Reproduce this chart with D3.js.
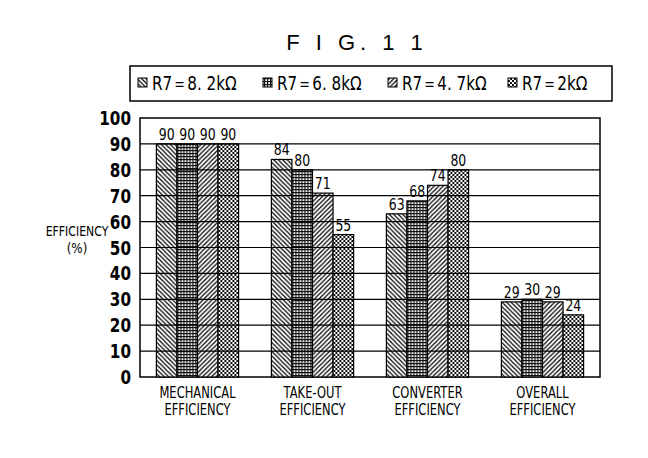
<!DOCTYPE html>
<html lang="en">
<head>
<meta charset="UTF-8">
<title>FIG. 11</title>
<script src="https://d3js.org/d3.v7.min.js"></script>
<style>
    body { margin: 0; background: #fff; }
    svg { display: block; }
    text { font-family: "DejaVu Sans", "Liberation Sans", sans-serif; fill: #000; }
</style>
</head>
<body>
<svg id="canvas" width="648" height="458"></svg>
<script>
    // chart data
    const categories = ['MECHANICAL\nEFFICIENCY', 'TAKE-OUT\nEFFICIENCY', 'CONVERTER\nEFFICIENCY', 'OVERALL\nEFFICIENCY'];
    const seriesNames = ['R7＝8. 2kΩ', 'R7＝6. 8kΩ', 'R7＝4. 7kΩ', 'R7＝2kΩ'];
    const r82 = [90, 84, 63, 29];
    const r68 = [90, 80, 68, 30];
    const r47 = [90, 71, 74, 29];
    const r20 = [90, 55, 80, 24];
    const yTicks = [0, 10, 20, 30, 40, 50, 60, 70, 80, 90, 100];

    const series = [r82, r68, r47, r20];
    const svg = d3.select('#canvas');

    const plotL = 140, plotR = 600, plotT = 118, plotB = 377;

    let x = d3.scaleBand().domain(categories).range([plotL, plotR])
        .paddingInner(0.285).paddingOuter(0.1425);
    let xs = d3.scaleBand().domain(d3.range(4)).range([0, x.bandwidth()]);
    let y = d3.scaleLinear().domain([0, 100]).range([plotB, plotT]);

    // squeezed text, the figure uses a tall narrow gothic face
    function narrow(parent, tx, ty, str, size, anchor, sx, weight){
        let g = parent.append('g').attr('transform', 'translate(' + tx + ',' + ty + ') scale(' + sx + ',1)');
        return g.append('text')
            .attr('font-size', size)
            .attr('font-weight', weight || 'normal')
            .attr('text-anchor', anchor)
            .text(str);
    }

    // hatch patterns
    let defs = svg.append('defs');
    function pat(id, size, draw){
        let p = defs.append('pattern').attr('id', id)
            .attr('patternUnits', 'userSpaceOnUse')
            .attr('width', size).attr('height', size);
        p.append('rect').attr('width', size).attr('height', size).attr('fill', 'white');
        draw(p);
    }
    pat('p0', 4.5, p => {
        p.append('path').attr('d', 'M-1,-1 L5.5,5.5 M-1,3.5 L1,5.5 M3.5,-1 L5.5,1')
            .attr('stroke', '#000').attr('stroke-width', 1.2);
    });
    pat('p1', 3, p => {
        p.append('rect').attr('width', 3).attr('height', 1.2).attr('fill', '#111');
        p.append('rect').attr('width', 1.2).attr('height', 3).attr('fill', '#111');
    });
    pat('p2', 4.5, p => {
        p.append('path').attr('d', 'M-1,5.5 L5.5,-1 M-1,1 L1,-1 M3.5,5.5 L5.5,3.5')
            .attr('stroke', '#000').attr('stroke-width', 1.2);
    });
    pat('p3', 4, p => {
        p.append('rect').attr('width', 2).attr('height', 2).attr('fill', '#111');
        p.append('rect').attr('x', 2).attr('y', 2).attr('width', 2).attr('height', 2).attr('fill', '#111');
    });

    // title
    svg.append('text')
        .attr('x', 357).attr('y', 50)
        .attr('text-anchor', 'middle')
        .style('font-family', 'Liberation Sans, sans-serif')
        .attr('font-size', 22)
        .attr('letter-spacing', 5)
        .text('F I G. 1 1');

    // legend
    let lg = svg.append('g');
    lg.append('rect').attr('x', 130).attr('y', 66).attr('width', 482).attr('height', 35)
        .attr('fill', 'white').attr('stroke', '#000').attr('stroke-width', 1.5);
    const legendX = [138, 263, 388, 508];
    seriesNames.forEach((s, i) => {
        lg.append('rect').attr('x', legendX[i]).attr('y', 78).attr('width', 9).attr('height', 9)
            .attr('fill', 'url(#p' + i + ')').attr('stroke', '#000').attr('stroke-width', 1);
        narrow(lg, legendX[i] + 14, 90, s, 19, 'start', 0.8);
    });

    // plot frame
    svg.append('rect').attr('x', plotL).attr('y', plotT)
        .attr('width', plotR - plotL).attr('height', plotB - plotT)
        .attr('fill', 'white').attr('stroke', '#000').attr('stroke-width', 1.5);

    // bars
    let groups = svg.append('g').selectAll('g')
        .data(categories).join('g')
        .attr('transform', d => 'translate(' + x(d) + ',0)');
    groups.each(function(cat, ci){
        let g = d3.select(this);
        series.forEach((vals, si) => {
            g.append('rect')
                .attr('x', xs(si)).attr('y', y(vals[ci]))
                .attr('width', xs.bandwidth()).attr('height', y(0) - y(vals[ci]))
                .attr('fill', 'url(#p' + si + ')')
                .attr('stroke', '#000').attr('stroke-width', 1.2);
        });
    });

    // grid lines drawn over the bars
    svg.append('g').selectAll('line')
        .data(yTicks.slice(1, -1)).join('line')
        .attr('x1', plotL).attr('x2', plotR)
        .attr('y1', d => y(d)).attr('y2', d => y(d))
        .attr('stroke', '#000').attr('stroke-width', 1.2);

    // value labels
    let vl = svg.append('g');
    categories.forEach((cat, ci) => {
        series.forEach((vals, si) => {
            narrow(vl, x(cat) + xs(si) + xs.bandwidth() / 2, y(vals[ci]) - 4,
                vals[ci], 16, 'middle', 0.78);
        });
    });

    // y axis
    let yAxis = svg.append('g')
        .attr('transform', 'translate(' + plotL + ',0)')
        .call(d3.axisLeft(y).tickValues(yTicks).tickSize(0).tickFormat(''));
    yAxis.select('.domain').remove();
    let yl = svg.append('g');
    yTicks.forEach(t => {
        narrow(yl, plotL - 9, y(t) + 7, t, 19, 'end', 0.8, 'bold');
    });

    // y label
    narrow(svg, 77, 236, 'EFFICIENCY', 14, 'middle', 0.78);
    narrow(svg, 77, 253, '(%)', 14, 'middle', 0.85);

    // x labels
    let xl = svg.append('g');
    categories.forEach(c => {
        c.split('\n').forEach((line, i) => {
            narrow(xl, x(c) + x.bandwidth() / 2, 398 + i * 17, line, 16, 'middle', 0.72);
        });
    });
</script>
</body>
</html>
